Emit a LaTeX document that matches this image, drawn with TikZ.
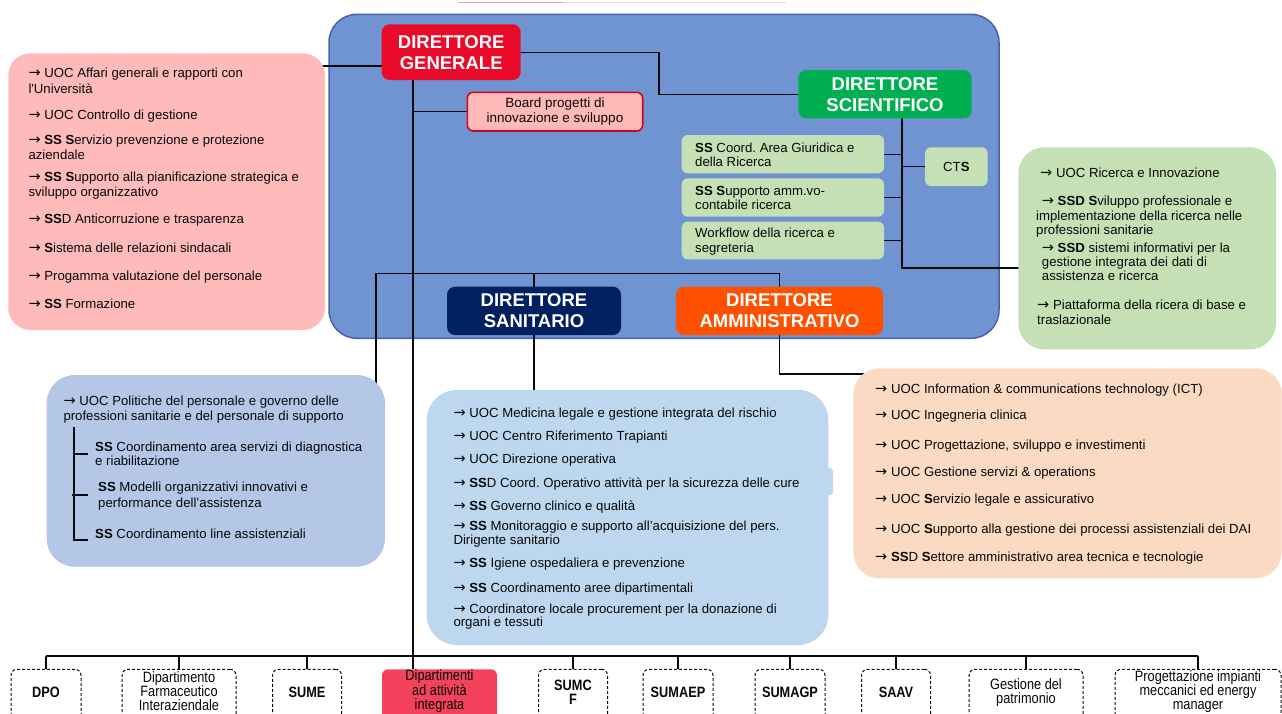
\documentclass[tikz,border=0pt]{standalone}
\usepackage{fontspec}
\setmainfont{Liberation Sans}
\newfontfamily\narrowfont[FakeStretch=0.85]{Liberation Sans}
\newfontfamily\arrowfont{DejaVu Sans}
\usetikzlibrary{calc}

\definecolor{frameblue}{RGB}{112,148,210}
\definecolor{frameedge}{RGB}{70,100,165}
\definecolor{dgred}{RGB}{234,10,42}
\definecolor{dsgreen}{RGB}{0,176,80}
\definecolor{dsnavy}{RGB}{0,32,96}
\definecolor{daorange}{RGB}{255,80,0}
\definecolor{boardpink}{RGB}{255,185,185}
\definecolor{boardedge}{RGB}{200,10,30}
\definecolor{staffpink}{RGB}{255,187,187}
\definecolor{softgreen}{RGB}{197,224,180}
\definecolor{hrblue}{RGB}{180,199,231}
\definecolor{sanblue}{RGB}{189,215,238}
\definecolor{peach}{RGB}{251,218,196}
\definecolor{deptred}{RGB}{244,66,92}
\definecolor{ink}{RGB}{8,8,8}
\definecolor{rulepink}{RGB}{232,160,165}
\definecolor{rulepinklight}{RGB}{246,212,214}

\newcommand\ar{{\arrowfont\fontsize{14.5}{14.5}\selectfont →}\ }
\newcommand\bodyfont{\fontsize{13.2}{14.5}\selectfont}

\pgfdeclarelayer{back}
\pgfdeclarelayer{wires}
\pgfsetlayers{back,wires,main}

\tikzset{
  listbox/.style={rounded corners=24, inner sep=0pt, outer sep=0pt},
  head/.style={rounded corners=8, inner sep=0pt, outer sep=0pt, text=white,
    font=\fontsize{18.5}{21}\selectfont\bfseries, align=center},
  sub/.style={rounded corners=6, inner sep=0pt, outer sep=0pt},
  unit/.style={draw=ink, dashed, dash pattern=on 3pt off 2pt, line width=1pt,
    rounded corners=6, fill=white, inner sep=0pt, outer sep=0pt, minimum height=52.7},
  txt/.style={anchor=base west, inner sep=0pt, text=ink, font=\bodyfont},
  unitlabel/.style={inner sep=0pt, text=ink, align=center,
    font=\narrowfont\fontsize{15}{14}\selectfont},
  conn/.style={draw=ink, line width=1.3pt},
  tree/.style={draw=ink, line width=1.2pt},
}

\begin{document}
\frenchspacing
\begin{tikzpicture}[x=1pt,y=-1pt]
\useasboundingbox (0,0) rectangle (1282,713);

% thin rule along the top edge
\draw[line width=1.2pt, rulepink] (458,2.3) coordinate (ra) -- (563,2.3) coordinate (rb);
\draw[line width=1.2pt, rulepinklight] (rb) -- (786,2.3);

% management frame
\begin{pgfonlayer}{back}
\node[listbox, rounded corners=28, fill=frameblue, draw=frameedge, line width=1.5pt,
  minimum width=670, minimum height=324] (frame) at (664,176.3) {};
\end{pgfonlayer}

% directors
\node[head, fill=dgred, minimum width=139, minimum height=55.7] (dg) at (451.2,52.15) {DIRETTORE\\GENERALE};
\node[head, fill=dsgreen, minimum width=173.4, minimum height=48.3] (ds) at (885,94.15) {DIRETTORE\\SCIENTIFICO};
\node[head, fill=dsnavy, minimum width=174, minimum height=48.3] (dsan) at (534,310.85) {DIRETTORE\\SANITARIO};
\node[head, fill=daorange, minimum width=207, minimum height=48.3] (da) at (779.5,310.85) {DIRETTORE\\AMMINISTRATIVO};

% board
\node[sub, fill=boardpink, draw=boardedge, line width=1.6pt, minimum width=175.4, minimum height=38.7,
  align=center, text=ink, font=\fontsize{13.5}{14.3}\selectfont] (board) at (555,111.65)
  {Board progetti di\\innovazione e sviluppo};

% scientific staff
\node[sub, fill=softgreen, minimum width=202.3, minimum height=38.3] (sg1) at (782.85,154.15) {};
\node[sub, fill=softgreen, minimum width=202.3, minimum height=38.4] (sg2) at (782.85,197.5) {};
\node[sub, fill=softgreen, minimum width=202.3, minimum height=37.6] (sg3) at (782.85,240.5) {};
\node[txt] (sg1a) at (695,152.3) {{\bfseries SS} Coord. Area Giuridica e};
\node[txt] (sg1b) at (695,166.3) {della Ricerca};
\node[txt] (sg2a) at (695,195) {{\bfseries SS S}upporto amm.vo-};
\node[txt] (sg2b) at (695,209) {contabile ricerca};
\node[txt] (sg3a) at (695,237.3) {Workflow della ricerca e};
\node[txt] (sg3b) at (695,252.3) {segreteria};
\node[sub, fill=softgreen, minimum width=62.7, minimum height=38.7, text=ink, font=\bodyfont] (cts) at (956.35,166.65) {CT{\bfseries S}};

% unit panels
\node[listbox, rounded corners=22, fill=staffpink, minimum width=316.7, minimum height=276.7] (pink) at (166.65,191.65) {};
\node[listbox, rounded corners=28, fill=hrblue, minimum width=338.3, minimum height=191.7] (hr) at (215.85,470.85) {};
\node[listbox, rounded corners=30, fill=sanblue, minimum width=401.6, minimum height=255] (san) at (627.5,517.5) {};
\fill[sanblue, rounded corners=3] (826,468) rectangle (833,495);
\node[listbox, rounded corners=26, fill=peach, minimum width=428.4, minimum height=210] (adm) at (1067.5,473.3) {};
\node[listbox, rounded corners=26, fill=softgreen, minimum width=257.7, minimum height=202] (ric) at (1147.15,248.3) {};

% staff of the general director
\foreach \y/\lbl [count=\i] in {
  73/{\ar UOC Affari generali e rapporti con},
  89/{l\textquotesingle Università},
  115/{\ar UOC Controllo di gestione},
  140/{\ar {\bfseries SS S}ervizio prevenzione e protezione},
  155/{aziendale},
  177.3/{\ar {\bfseries SS S}upporto alla pianificazione strategica e},
  192.3/{sviluppo organizzativo},
  219/{\ar {\bfseries SS}D Anticorruzione e trasparenza},
  248.3/{\ar {\bfseries S}istema delle relazioni sindacali},
  276.7/{\ar Progamma valutazione del personale},
  304/{\ar {\bfseries SS} Formazione}}
  \node[txt] (st\i) at (28.3,\y+4) {\lbl};

% personnel policies
\foreach \x/\y/\lbl [count=\i] in {
  63.3/401.7/{\ar UOC Politiche del personale e governo delle},
  63.3/416.7/{professioni sanitarie e del personale di supporto},
  95/447/{{\bfseries SS} Coordinamento area servizi di diagnostica},
  95/461/{e riabilitazione},
  98/487/{{\bfseries SS} Modelli organizzativi innovativi e},
  98/503/{performance dell’assistenza},
  95/534/{{\bfseries SS} Coordinamento line assistenziali}}
  \node[txt] (hr\i) at (\x,\y+4) {\lbl};
\coordinate (t0) at (74,427);
\coordinate (t3) at (74,540);
\draw[tree] (t0) -- (t3) -- ++(14,0);
\draw[tree] (74,454) -- ++(14,0);
\draw[tree] (72,495) -- ++(16,0);

% health director units
\foreach \y/\lbl [count=\i] in {
  413.3/{\ar UOC Medicina legale e gestione integrata del rischio},
  436/{\ar UOC Centro Riferimento Trapianti},
  459.3/{\ar UOC Direzione operativa},
  483.3/{\ar {\bfseries SS}D Coord. Operativo attività per la sicurezza delle cure},
  506/{\ar {\bfseries SS} Governo clinico e qualità},
  526.7/{\ar {\bfseries SS} Monitoraggio e supporto all’acquisizione del pers.},
  540.7/{Dirigente sanitario},
  563.3/{\ar {\bfseries SS} Igiene ospedaliera e prevenzione},
  588.3/{\ar {\bfseries SS} Coordinamento aree dipartimentali},
  609.3/{\ar Coordinatore locale procurement per la donazione di},
  622.7/{organi e tessuti}}
  \node[txt] (sn\i) at (453.3,\y+4) {\lbl};

% administrative director units
\foreach \y/\lbl [count=\i] in {
  389.3/{\ar UOC Information \& communications technology (ICT)},
  415/{\ar UOC Ingegneria clinica},
  445/{\ar UOC Progettazione, sviluppo e investimenti},
  472.7/{\ar UOC Gestione servizi \& operations},
  499.3/{\ar UOC {\bfseries S}ervizio legale e assicurativo},
  529.3/{\ar UOC {\bfseries S}upporto alla gestione dei processi assistenziali dei DAI},
  557.3/{\ar {\bfseries SS}D {\bfseries S}ettore amministrativo area tecnica e tecnologie}}
  \node[txt] (am\i) at (875,\y+4) {\lbl};

% research units
\foreach \x/\y/\lbl [count=\i] in {
  1040/173.3/{\ar UOC Ricerca e Innovazione},
  1041.7/201.7/{\ar {\bfseries SSD S}viluppo professionale e},
  1036/216/{implementazione della ricerca nelle},
  1036/230/{professioni sanitarie},
  1041.7/248.3/{\ar {\bfseries SSD} sistemi informativi per la},
  1041.7/262.7/{gestione integrata dei dati di},
  1041.7/276.7/{assistenza e ricerca},
  1037/305/{\ar Piattaforma della ricera di base e},
  1037/320/{traslazionale}}
  \node[txt] (rc\i) at (\x,\y+4) {\lbl};

% departments and services row
\node[unit, minimum width=70] (dpo) at (46,695.65) {};
\node[unit, minimum width=114] (farm) at (179,695.65) {};
\node[unit, minimum width=69] (sume) at (307,695.65) {};
\node[rounded corners=6, fill=deptred, inner sep=0pt, outer sep=0pt, minimum width=115, minimum height=52.7] (red) at (439.5,695.65) {};
\node[unit, minimum width=69] (sumcf) at (573,695.65) {};
\node[unit, minimum width=70] (sumaep) at (678,695.65) {};
\node[unit, minimum width=70] (sumagp) at (790,695.65) {};
\node[unit, minimum width=69] (saav) at (896,695.65) {};
\node[unit, minimum width=114] (patr) at (1026,695.65) {};
\node[unit, minimum width=166] (prog) at (1198,695.65) {};

\node[unitlabel] (dpoT) at (46,692) {\bfseries DPO};
\node[unitlabel] (farmT) at (179,691) {Dipartimento\\Farmaceutico\\Interaziendale};
\node[unitlabel] (sumeT) at (307,692) {\bfseries SUME};
\node[unitlabel] (redT) at (439.5,691.5) {Dipartimenti\\ad attività\\integrata};
\node[unitlabel] (sumcfT) at (573,692) {\bfseries SUMC\\\bfseries F};
\node[unitlabel] (sumaepT) at (678,692) {\bfseries SUMAEP};
\node[unitlabel] (sumagpT) at (790,692) {\bfseries SUMAGP};
\node[unitlabel] (saavT) at (896,692) {\bfseries SAAV};
\node[unitlabel] (patrT) at (1026,692.5) {Gestione del\\patrimonio};
\node[unitlabel] (progT) at (1198,691.5) {Progettazione impianti\\meccanici ed energy\\manager};

% connectors
\begin{pgfonlayer}{wires}
\coordinate (lv) at (0,66);
\draw[conn] (pink.center |- lv) -- (dg.west |- lv);
\draw[conn] (dg.east) -- ++(138.3,0) |- (ds.west);
\coordinate (gx) at (413,0);
\draw[conn] (dg.south -| gx) -- (red.north -| gx);
\draw[conn] (gx |- board.west) -- (board.west);
\coordinate (dsx) at (902,0);
\coordinate (lvg) at (0,268);
\draw[conn] (ds.south -| dsx) -- (dsx |- lvg) -- (ric.center |- lvg);
\foreach \b in {sg1,sg2,sg3} \draw[conn] (\b.east) -- (\b.east -| dsx);
\draw[conn] (cts.west) -- (cts.west -| dsx);
\coordinate (hub) at (0,273.3);
\coordinate (lx) at (376,0);
\coordinate (lxe) at (376,386);
\draw[conn] (da.north) -- (da.north |- hub) -- (lx |- hub) -- (lxe);
\draw[conn] (dsan.north) -- (dsan.north |- hub);
\draw[conn] (dsan.south) -- (dsan.south |- san.north);
\coordinate (ly) at (0,374);
\draw[conn] (da.south) -- (da.south |- ly) -- (adm.center |- ly);
\coordinate (bus) at (0,656);
\draw[conn] (dpo.north |- bus) -- (prog.north |- bus);
\foreach \b in {dpo,farm,sume,sumcf,sumaep,sumagp,saav,patr,prog}
  \draw[conn] (\b.north) -- (\b.north |- bus);
\end{pgfonlayer}
\end{tikzpicture}
\end{document}
